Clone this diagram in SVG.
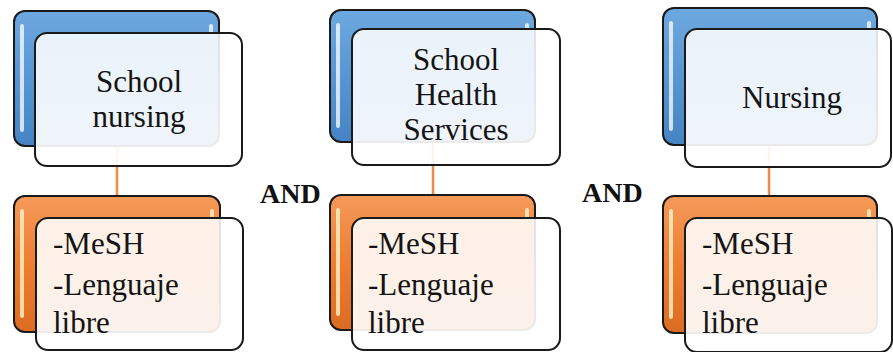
<svg xmlns="http://www.w3.org/2000/svg" width="893" height="352" viewBox="0 0 893 352">
  <defs>
    <linearGradient id="gBlue" x1="0" y1="0" x2="0" y2="1">
      <stop offset="0" stop-color="#6ea8e0"/>
      <stop offset="0.5" stop-color="#5796d3"/>
      <stop offset="1" stop-color="#4583c4"/>
    </linearGradient>
    <linearGradient id="gOrange" x1="0" y1="0" x2="0" y2="1">
      <stop offset="0" stop-color="#f59a5a"/>
      <stop offset="0.5" stop-color="#ed7d31"/>
      <stop offset="1" stop-color="#dc6c22"/>
    </linearGradient>
    <linearGradient id="gFront" x1="0" y1="0" x2="0" y2="1">
      <stop offset="0" stop-color="#ffffff" stop-opacity="0.87"/>
      <stop offset="1" stop-color="#ffffff" stop-opacity="0.92"/>
    </linearGradient>
  </defs>
  <style>
    .back { stroke: #1a1a1a; stroke-width: 2; }
    .blue { fill: url(#gBlue); }
    .orange { fill: url(#gOrange); }
    .front { fill: url(#gFront); stroke: #1a1a1a; stroke-width: 2; }
    .hl { stroke: #ffffff; stroke-width: 4; stroke-linecap: round; opacity: 0.75; }
    .hlo { stroke: #fff3c8; stroke-width: 4; stroke-linecap: round; opacity: 0.8; }
    .conn { stroke: #f08a45; stroke-width: 2.5; fill: none; }
    .t { font-family: "Liberation Serif", "Times New Roman", serif; font-size: 31px; fill: #141414; }
    .c { text-anchor: middle; }
    .and { font-family: "Liberation Serif", "Times New Roman", serif; font-size: 28px; font-weight: bold; fill: #111; }
  </style>

  <g id="connectors">
    <line class="conn" x1="117" y1="146" x2="117" y2="197"/>
    <line class="conn" x1="433" y1="142" x2="433" y2="196"/>
    <line class="conn" x1="769" y1="145" x2="769" y2="197"/>
  </g>

  <g id="node-school-nursing">
    <rect class="back blue" x="14" y="11" width="205" height="135" rx="11"/>
    <line class="hl" x1="22" y1="26" x2="22" y2="130"/>
    <line class="hl" x1="211" y1="26" x2="211" y2="32"/>
    <rect class="front" x="35" y="33" width="207" height="133" rx="12"/>
    <text class="t c" x="139" y="92">School</text>
    <text class="t c" x="139" y="127">nursing</text>
  </g>

  <g id="node-mesh-1">
    <rect class="back orange" x="14" y="196" width="206" height="136" rx="11"/>
    <line class="hlo" x1="22" y1="211" x2="22" y2="316"/>
    <line class="hlo" x1="212" y1="211" x2="212" y2="217"/>
    <rect class="front" x="36" y="218" width="207" height="132" rx="12"/>
    <text class="t" x="53" y="254">-MeSH</text>
    <text class="t" x="53" y="295">-Lenguaje</text>
    <text class="t" x="53" y="333">libre</text>
  </g>

  <g id="node-school-health-services">
    <rect class="back blue" x="330" y="10" width="205" height="132" rx="11"/>
    <line class="hl" x1="338" y1="25" x2="338" y2="126"/>
    <line class="hl" x1="527" y1="25" x2="527" y2="28"/>
    <rect class="front" x="352" y="29" width="208" height="136" rx="12"/>
    <text class="t c" x="456" y="70">School</text>
    <text class="t c" x="456" y="105">Health</text>
    <text class="t c" x="456" y="140">Services</text>
  </g>

  <g id="node-mesh-2">
    <rect class="back orange" x="330" y="195" width="205" height="135" rx="11"/>
    <line class="hlo" x1="338" y1="210" x2="338" y2="314"/>
    <line class="hlo" x1="527" y1="210" x2="527" y2="217"/>
    <rect class="front" x="352" y="218" width="208" height="132" rx="12"/>
    <text class="t" x="368" y="254">-MeSH</text>
    <text class="t" x="368" y="295">-Lenguaje</text>
    <text class="t" x="368" y="333">libre</text>
  </g>

  <g id="node-nursing">
    <rect class="back blue" x="663" y="8" width="214" height="137" rx="11"/>
    <line class="hl" x1="671" y1="23" x2="671" y2="129"/>
    <line class="hl" x1="869" y1="23" x2="869" y2="28"/>
    <rect class="front" x="685" y="29" width="206" height="138" rx="12"/>
    <text class="t c" x="792" y="108">Nursing</text>
  </g>

  <g id="node-mesh-3">
    <rect class="back orange" x="663" y="196" width="214" height="137" rx="11"/>
    <line class="hlo" x1="671" y1="211" x2="671" y2="317"/>
    <line class="hlo" x1="869" y1="211" x2="869" y2="217"/>
    <rect class="front" x="685" y="218" width="207" height="134" rx="12"/>
    <text class="t" x="702" y="254">-MeSH</text>
    <text class="t" x="702" y="295">-Lenguaje</text>
    <text class="t" x="702" y="333">libre</text>
  </g>

  <g id="labels">
    <text class="and" x="260" y="203">AND</text>
    <text class="and" x="582" y="202">AND</text>
  </g>
</svg>
